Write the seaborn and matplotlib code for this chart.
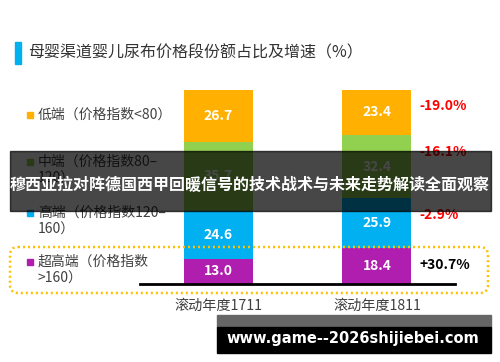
import pandas as pd
import seaborn as sns
import matplotlib
matplotlib.use('Agg')
from matplotlib import pyplot as plt
from matplotlib.patches import Rectangle, FancyBboxPatch

# data, stacked bottom -> top
periods = ['滚动年度1711', '滚动年度1811']
tier_names = ['超高端', '高端', '中端', '低端']
ultra_high = [13.0, 18.4]
high_end = [24.6, 25.9]
mid_end = [35.7, 32.4]
low_end = [26.7, 23.4]
growth = [30.7, -2.9, -16.1, -19.0]
legend_labels = ['超高端（价格指数\n>160）', '高端（价格指数120–\n160）',
                 '中端（价格指数80–\n120）', '低端（价格指数<80）']
title = '母婴渠道婴儿尿布价格段份额占比及增速（%）'
banner = '穆西亚拉对阵德国西甲回暖信号的技术战术与未来走势解读全面观察'
url = 'www.game--2026shijiebei.com'

colors = ['#B01EAF', '#00B0F0', '#92D050', '#FFB000']

sns.set_theme(style='white')
plt.rcParams['font.family'] = ['Noto Sans CJK SC', 'DejaVu Sans']

fig = plt.figure(figsize=(5, 3.62), dpi=100)
ax = fig.add_axes([0.28, 0.2155, 0.63, 0.536])

df = pd.DataFrame({'period': periods, '超高端': ultra_high, '高端': high_end,
                   '中端': mid_end, '低端': low_end})
cum = df[tier_names].cumsum(axis=1)

bw = 0.435
# draw cumulative totals from the top layer down so each one covers the next
for name, c in reversed(list(zip(tier_names, colors))):
    sns.barplot(x=df['period'], y=cum[name], color=c, width=bw, saturation=1,
                linewidth=0, errorbar=None, ax=ax)

for i in range(len(periods)):
    bottom = 0
    for name in tier_names:
        v = df.loc[i, name]
        ax.text(i, bottom + v / 2, '{:.1f}'.format(v), ha='center', va='center',
                color='white', fontsize=10, fontweight='bold')
        bottom += v

for j, name in enumerate(tier_names):
    g = growth[j]
    ax.text(1 + bw / 2 + 0.05, cum.loc[1, name] - 8.5, '{:+.1f}%'.format(g),
            ha='left', va='center', fontsize=10, fontweight='bold',
            color='#FF0000' if g < 0 else 'black', clip_on=False)

ax.set_xlim(-0.492, 1.492)
ax.set_ylim(0, 100)
ax.set_xlabel('')
ax.set_ylabel('')
ax.set_yticks([])
for s in ['left', 'top', 'right']:
    ax.spines[s].set_visible(False)
ax.spines['bottom'].set_color('black')
ax.spines['bottom'].set_linewidth(2)
ax.tick_params(axis='x', length=0, pad=11, labelsize=10.2, labelcolor='#404040')

# overlay in pixel coordinates for title, legend, frames
ov = fig.add_axes([0, 0, 1, 1], zorder=3)
ov.set_xlim(0, 500)
ov.set_ylim(362, 0)
ov.axis('off')
ov.patch.set_alpha(0)

ov.add_patch(Rectangle((15, 42), 6, 22, color='#00B0F0'))
ov.text(28, 53, title, va='center', ha='left', fontsize=11.5, color='#333333')

legend_y = [262, 213, 162, 115]
for label, c, y in zip(legend_labels, colors, legend_y):
    ov.add_patch(Rectangle((27, y - 3), 6, 6, color=c))
    for k, line in enumerate(label.split('\n')):
        ov.text(38, y + k * 17, line, va='center', ha='left', fontsize=10,
                color='#404040')

ov.add_patch(FancyBboxPatch((10, 247), 478, 46,
                            boxstyle='round,pad=0,rounding_size=8',
                            fill=False, ec='#FFC000', lw=1.8,
                            ls=(0, (0.8, 1.2))))

ov.add_patch(Rectangle((10, 151), 481, 60, color='black', alpha=0.72, zorder=5))
ov.text(250, 185, banner, ha='center', va='center', color='white',
        fontsize=11.5, fontweight='bold', zorder=6)

ov.add_patch(Rectangle((217, 315), 274, 12, color='#666666', zorder=5))
ov.add_patch(Rectangle((217, 327), 274, 26, color='black', zorder=5))
ov.text(353, 338, url, ha='center', va='center', color='white', fontsize=10.5,
        fontweight='bold', family='DejaVu Sans', zorder=6)

fig.savefig('out.png', dpi=100)
